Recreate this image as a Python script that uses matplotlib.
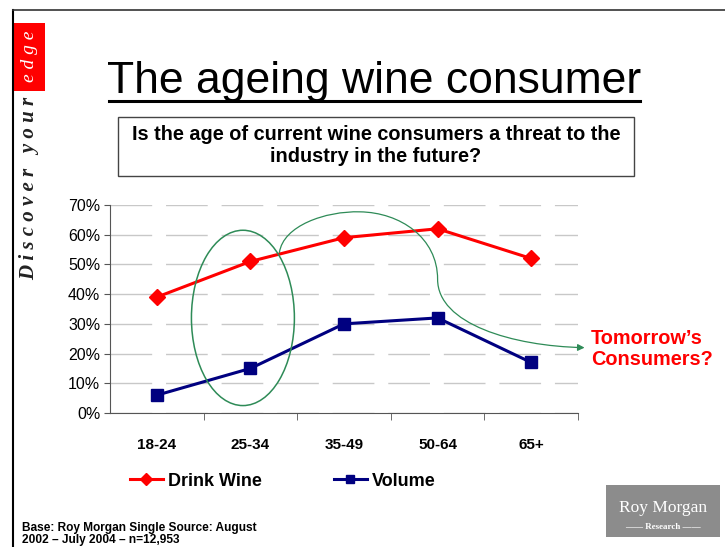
import matplotlib.pyplot as plt
from matplotlib.patches import Ellipse, Rectangle, FancyArrowPatch
from matplotlib.path import Path
from matplotlib.lines import Line2D

plt.rcParams["font.family"] = ["Liberation Sans", "DejaVu Sans"]

# ---------------- DATA ----------------
age_groups = ["18-24", "25-34", "35-49", "50-64", "65+"]
drink_wine = [39, 51, 59, 62, 52]
volume     = [6, 15, 30, 32, 17]
y_ticks    = [0, 10, 20, 30, 40, 50, 60, 70]

RED  = "#ff0000"
NAVY = "#000080"
GREEN = "#2e8b57"

fig = plt.figure(figsize=(7.25, 5.47), dpi=100)

# slide frame
fig.add_artist(Line2D([13/725, 13/725], [0, 1 - 10/547], color="black", lw=1.5))
fig.add_artist(Line2D([13/725, 1], [1 - 10/547, 1 - 10/547], color="#333333", lw=1.2))

# side tag
fig.add_artist(Rectangle((14/725, 1 - 91/547), 31/725, 68/547, color="#ff0000", lw=0))
fig.text(29/725, 1 - 56/547, "e d g e", rotation=90, ha="center", va="center",
         color="white", fontsize=14, family="Liberation Serif", style="italic")
fig.text(29/725, 1 - 188/547, "D i s c o v e r   y o u r", rotation=90, ha="center",
         va="center", color="#222222", fontsize=15, family="Liberation Serif",
         style="italic", weight="bold")

# title + question box
fig.text(374/725, 1 - 82/547, "The ageing wine consumer", ha="center", va="center",
         fontsize=32)
fig.add_artist(Line2D([109/725, 640/725], [1 - 101/547, 1 - 101/547], color="black", lw=2.2))
fig.add_artist(Rectangle((118/725, 1 - 176/547), 516/725, 59/547, fill=False,
                         edgecolor="#444444", lw=1.0))
fig.text(376/725, 1 - 146/547,
         "Is the age of current wine consumers a threat to the\nindustry in the future?",
         ha="center", va="center", fontsize=14.3, weight="bold", linespacing=1.2)

# ---------------- CHART ----------------
ax = fig.add_axes([110/725, 1 - 413/547, 468/725, 208/547])
x = list(range(len(age_groups)))
ax.plot(x, drink_wine, "-", color=RED, lw=2.2, marker="D", markersize=8,
        label="Drink Wine", zorder=3)
ax.plot(x, volume, "-", color=NAVY, lw=2.2, marker="s", markersize=8.5,
        label="Volume", zorder=3)

ax.set_xlim(-0.5, 4.5)
ax.set_ylim(0, 70)
ax.set_yticks(y_ticks)
ax.set_yticklabels([f"{v}%" for v in y_ticks], fontsize=11.5)
ax.set_xticks(x)
ax.set_xticklabels(age_groups, fontsize=11, weight="bold")
ax.tick_params(axis="x", length=0, pad=18)
ax.set_xticks([0.5, 1.5, 2.5, 3.5, 4.5], minor=True)
ax.tick_params(axis="x", which="minor", length=5, direction="out", color="#555555")
ax.tick_params(axis="y", length=4, direction="out", color="#555555", pad=3)
for s in ["top", "right"]:
    ax.spines[s].set_visible(False)
for s in ["left", "bottom"]:
    ax.spines[s].set_color("#555555")
ax.yaxis.grid(True, color="#c8c8c8", lw=1.0, dashes=(30, 10))
ax.set_axisbelow(True)

# ellipse around 25-34
ax.add_patch(Ellipse((0.92, 32), 1.10, 59, fill=False, edgecolor=GREEN, lw=1.1,
                     clip_on=False, zorder=4))

# curved arrow towards "Tomorrow's Consumers?"
verts = [(1.31, 54), (1.35, 63), (1.8, 68), (2.17, 67.7),
         (2.6, 67.5), (3.0, 59), (3.0, 45),
         (3.0, 30), (3.8, 22.5), (4.57, 22)]
codes = [Path.MOVETO] + [Path.CURVE4] * 9
arrow = FancyArrowPatch(path=Path(verts, codes), arrowstyle="-|>,head_length=4,head_width=2",
                        color=GREEN, lw=0.9, clip_on=False, zorder=4)
ax.add_patch(arrow)

fig.text(591/725, 1 - 349/547, "Tomorrow\u2019s\nConsumers?", ha="left", va="center",
         color=RED, fontsize=14.3, weight="bold", linespacing=1.15)

# legend
fig.legend(loc="center", bbox_to_anchor=(283/725, 1 - 481/547), ncol=2, frameon=False,
           prop={"weight": "bold", "size": 13}, handlelength=1.8, handletextpad=0.3,
           columnspacing=4.0, markerscale=0.75)

# base note
fig.text(22/725, 1 - 534/547, "Base: Roy Morgan Single Source: August\n2002 \u2013 July 2004 \u2013 n=12,953",
         ha="left", va="center", fontsize=8.6, weight="bold", linespacing=1.1)

# logo
fig.add_artist(Rectangle((606/725, 1 - 537/547), 114/725, 52/547, color="#8c8c8c", lw=0))
fig.text(663/725, 1 - 508/547, "Roy Morgan", ha="center", va="center", color="white",
         fontsize=12.5, family="Liberation Serif")
fig.text(663/725, 1 - 527/547, "\u2014\u2014 Research \u2014\u2014", ha="center", va="center",
         color="white", fontsize=6.5, family="Liberation Serif", weight="bold")

fig.savefig("out.png", dpi=100)
